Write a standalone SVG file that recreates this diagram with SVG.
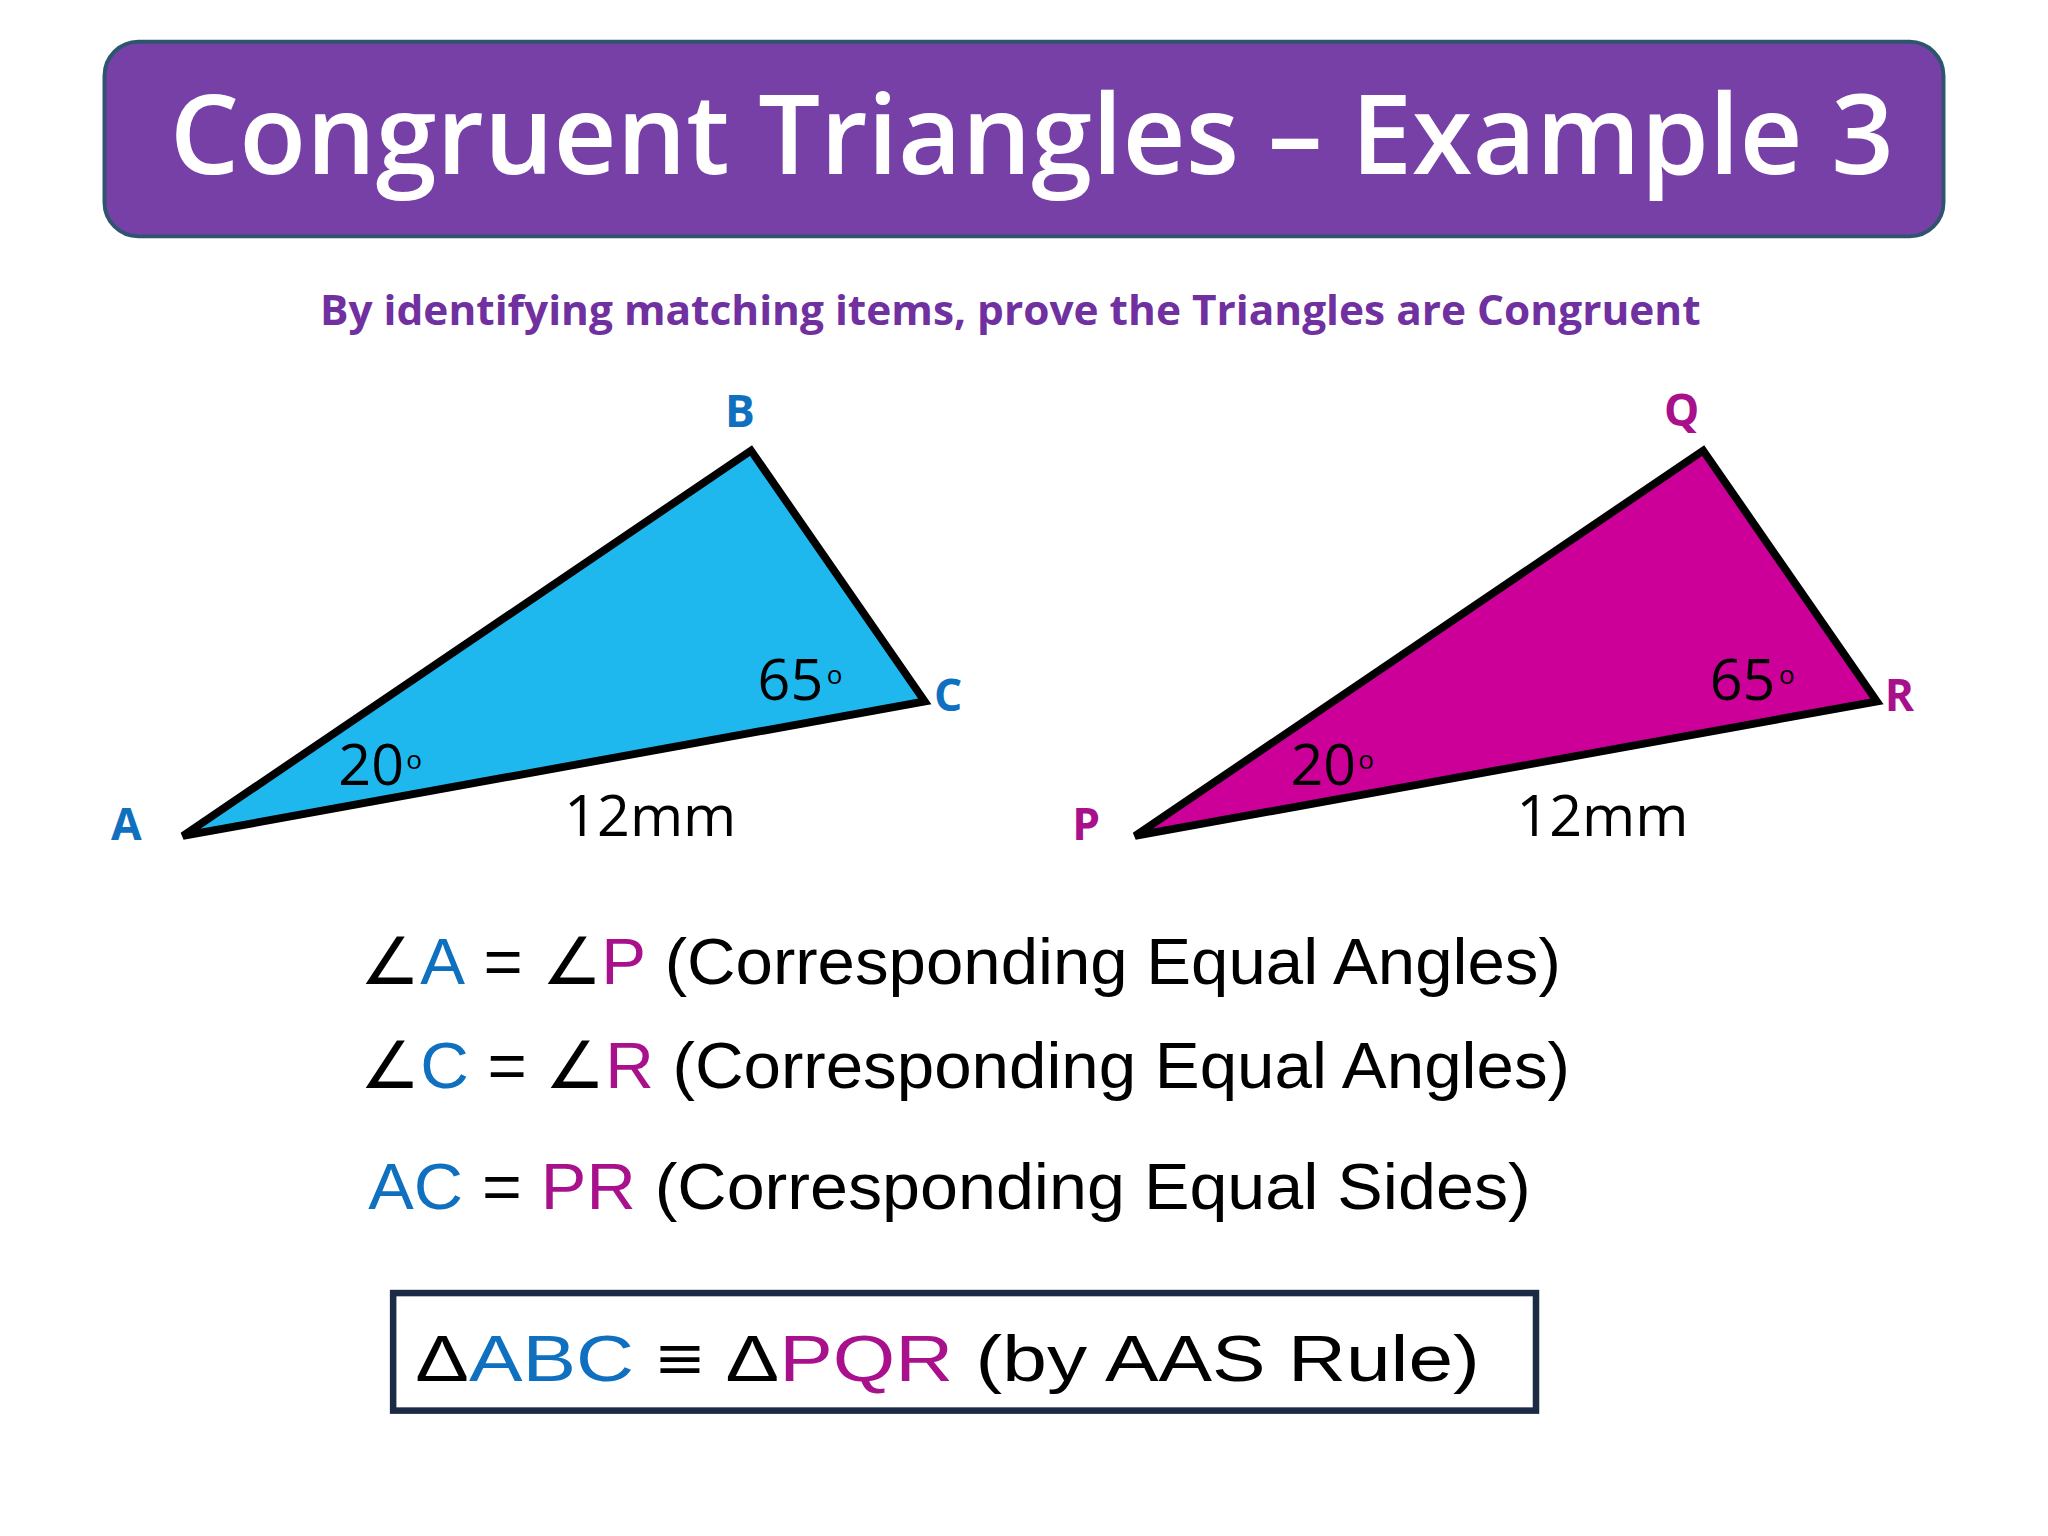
<svg xmlns="http://www.w3.org/2000/svg" width="2048" height="1536" viewBox="0 0 2048 1536">
<style>
.lbl{font-family:"Open Sans","Noto Sans",sans-serif;font-weight:bold;font-size:34px}
.num{font-family:"Open Sans","Noto Sans",sans-serif;font-size:44px;fill:#000}
.deg{font-family:"Open Sans",sans-serif;font-size:20px;fill:#000}
.eq{font-family:"Liberation Sans",Arial,sans-serif;font-size:50px;fill:#000}
.b{fill:#1070C0}.m{fill:#A8108C}
.tri{stroke:#000;stroke-width:6;stroke-linejoin:miter}
</style>
<rect width="2048" height="1536" fill="#fff"/>
<g transform="scale(1.30612)">
<g id="title">
<rect x="80" y="32" width="1408" height="149" rx="26" fill="#7740A6" stroke="#2F5470" stroke-width="3"/>
<text x="130" y="133" font-family="Open Sans,Noto Sans,sans-serif" font-size="84" font-weight="600" fill="#fff" textLength="1320" lengthAdjust="spacingAndGlyphs">Congruent Triangles – Example 3</text>
</g>
<text id="subtitle" x="245" y="249" font-family="Open Sans,Noto Sans,sans-serif" font-size="32" font-weight="bold" fill="#7030A0" textLength="1057" lengthAdjust="spacingAndGlyphs">By identifying matching items,  prove the Triangles are Congruent</text>
<g id="triABC">
<polygon class="tri" points="140,640 575,345 708,537" fill="#1EB8EF"/>
<text class="lbl b" x="555" y="327">B</text>
<text class="lbl b" x="715" y="544">C</text>
<text class="lbl b" x="85" y="643">A</text>
<text class="num" x="580" y="536">65</text><text class="deg" x="633" y="524">o</text>
<text class="num" x="259" y="601">20</text><text class="deg" x="311" y="589">o</text>
<text class="num" x="432" y="640">12mm</text>
</g>
<g id="triPQR">
<polygon class="tri" points="869,640 1304,345 1437,537" fill="#CC0099"/>
<text class="lbl m" x="1274" y="326">Q</text>
<text class="lbl m" x="1443" y="544">R</text>
<text class="lbl m" x="821" y="643">P</text>
<text class="num" x="1309" y="536">65</text><text class="deg" x="1362" y="524">o</text>
<text class="num" x="988" y="601">20</text><text class="deg" x="1040" y="589">o</text>
<text class="num" x="1161" y="640">12mm</text>
</g>
<g id="statements">
<text class="eq" x="276" y="753" textLength="919" lengthAdjust="spacingAndGlyphs">∠<tspan class="b">A</tspan> = ∠<tspan class="m">P</tspan> (Corresponding Equal Angles)</text>
<text class="eq" x="276" y="833" textLength="926" lengthAdjust="spacingAndGlyphs">∠<tspan class="b">C</tspan> = ∠<tspan class="m">R</tspan> (Corresponding Equal Angles)</text>
<text class="eq" x="282" y="926" textLength="890" lengthAdjust="spacingAndGlyphs"><tspan class="b">AC</tspan> = <tspan class="m">PR</tspan> (Corresponding Equal Sides)</text>
</g>
<g id="conclusion">
<rect x="301" y="990" width="875" height="90" fill="#fff" stroke="#1B2A45" stroke-width="5"/>
<text class="eq" x="318" y="1057" font-size="62" textLength="815" lengthAdjust="spacingAndGlyphs">Δ<tspan class="b">ABC</tspan> ≡ Δ<tspan class="m">PQR</tspan>  (by AAS Rule)</text>
</g>
</g>
</svg>
